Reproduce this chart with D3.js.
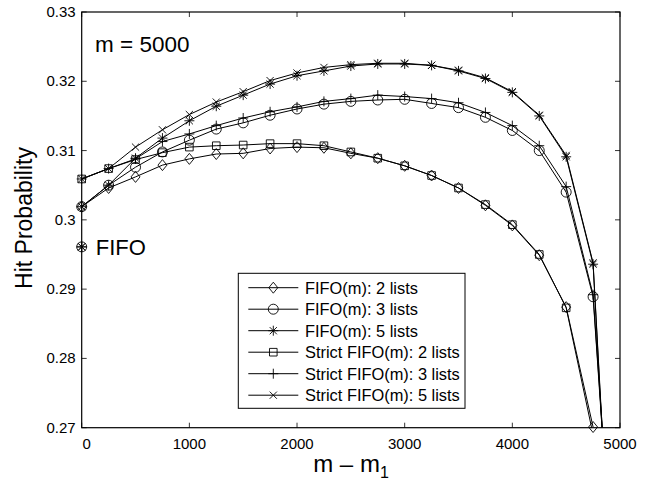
<!DOCTYPE html>
<html>
<head>
  <meta charset="utf-8">
  <title>Hit Probability vs m - m1</title>
  <script src="https://d3js.org/d3.v7.min.js"></script>
  <style>
    body { margin: 0; background: #fff; }
    svg { font-family: "Liberation Sans", Arial, sans-serif; }
    .curve { fill: none; stroke: #000; stroke-width: 1; }
    .mark { fill: none; stroke: #000; stroke-width: 0.9; }
  </style>
</head>
<body>
  <script>
    // x values (m - m1)
    const xs = [0, 250, 500, 750, 1000, 1250, 1500, 1750, 2000, 2250, 2500,
                2750, 3000, 3250, 3500, 3750, 4000, 4250, 4500, 4750, 5000];

    // series values
    const fifo2 = [0.3019, 0.3046, 0.3062, 0.3079, 0.3088, 0.3095, 0.3096, 0.3103, 0.3105, 0.3104, 0.3096,
                   0.3089, 0.3078, 0.3064, 0.3046, 0.3021, 0.2992, 0.2949, 0.2874, 0.2701];
    const fifo3 = [0.3019, 0.3050, 0.3076, 0.3098, 0.3115, 0.3131, 0.3140, 0.3151, 0.3160, 0.3167, 0.3171,
                   0.3173, 0.3174, 0.3168, 0.3162, 0.3148, 0.3129, 0.3100, 0.3040, 0.2889, 0.2320];
    const fifo5 = [0.3019, 0.3050, 0.3089, 0.3118, 0.3143, 0.3164, 0.3180, 0.3196, 0.3208, 0.3215, 0.3222,
                   0.3225, 0.3225, 0.3223, 0.3215, 0.3204, 0.3184, 0.3150, 0.3091, 0.2936, 0.2220];
    const strict2 = [0.3059, 0.3074, 0.3087, 0.3097, 0.3105, 0.3107, 0.3108, 0.3110, 0.3110, 0.3107, 0.3098,
                     0.3089, 0.3078, 0.3064, 0.3046, 0.3022, 0.2993, 0.2950, 0.2873, 0.2690];
    const strict3 = [0.3059, 0.3074, 0.3088, 0.3113, 0.3124, 0.3136, 0.3147, 0.3156, 0.3163, 0.3171, 0.3175,
                     0.3180, 0.3178, 0.3175, 0.3169, 0.3155, 0.3136, 0.3107, 0.3048, 0.2892, 0.2330];
    const strict5 = [0.3059, 0.3074, 0.3105, 0.3130, 0.3152, 0.3170, 0.3185, 0.3201, 0.3212, 0.3220, 0.3224,
                     0.3226, 0.3226, 0.3223, 0.3216, 0.3205, 0.3185, 0.3151, 0.3093, 0.2938, 0.2230];

    // plain FIFO point
    const fifoPoint = { x: 0, y: 0.2961 };

    const xTicks = [0, 1000, 2000, 3000, 4000, 5000];
    const yTicks = [0.27, 0.28, 0.29, 0.30, 0.31, 0.32, 0.33];

    const series = [
      { name: "FIFO(m): 2 lists", values: fifo2, marker: "diamond" },
      { name: "FIFO(m): 3 lists", values: fifo3, marker: "circle" },
      { name: "FIFO(m): 5 lists", values: fifo5, marker: "star" },
      { name: "Strict FIFO(m): 2 lists", values: strict2, marker: "square" },
      { name: "Strict FIFO(m): 3 lists", values: strict3, marker: "plus" },
      { name: "Strict FIFO(m): 5 lists", values: strict5, marker: "cross" }
    ];

    const width = 657, height = 483;
    const margin = { left: 81.7, right: 37, top: 12, bottom: 55.3 };

    const x = d3.scaleLinear().domain([0, 5000]).range([margin.left, width - margin.right]);
    const y = d3.scaleLinear().domain([0.27, 0.33]).range([height - margin.bottom, margin.top]);

    const svg = d3.create("svg")
        .attr("width", width)
        .attr("height", height);

    svg.append("defs").append("clipPath").attr("id", "plotclip")
      .append("rect")
        .attr("x", x(0)).attr("y", y(0.33))
        .attr("width", x(5000) - x(0)).attr("height", y(0.27) - y(0.33));

    // marker paths, centred at 0,0
    function markerPath(type) {
      const p = d3.path();
      if (type === "diamond") {
        p.moveTo(0, -5.5); p.lineTo(4.5, 0); p.lineTo(0, 5.5); p.lineTo(-4.5, 0); p.closePath();
      } else if (type === "square") {
        p.rect(-3.8, -3.8, 7.6, 7.6);
      } else if (type === "circle") {
        p.moveTo(5, 0); p.arc(0, 0, 5, 0, 2 * Math.PI);
      } else if (type === "plus") {
        p.moveTo(-5, 0); p.lineTo(5, 0); p.moveTo(0, -5); p.lineTo(0, 5);
      } else if (type === "cross") {
        p.moveTo(-3.6, -3.6); p.lineTo(3.6, 3.6); p.moveTo(-3.6, 3.6); p.lineTo(3.6, -3.6);
      } else if (type === "star") {
        p.moveTo(-5, 0); p.lineTo(5, 0); p.moveTo(0, -5); p.lineTo(0, 5);
        p.moveTo(-3.6, -3.6); p.lineTo(3.6, 3.6); p.moveTo(-3.6, 3.6); p.lineTo(3.6, -3.6);
      }
      return p.toString();
    }

    const line = d3.line()
        .x(d => x(d[0]))
        .y(d => y(d[1]));

    const plot = svg.append("g");

    // curves
    series.forEach(s => {
      const pts = s.values.map((v, i) => [xs[i], v]);
      plot.append("path")
          .attr("class", "curve")
          .attr("clip-path", "url(#plotclip)")
          .attr("d", line(pts));
      plot.selectAll(null)
        .data(pts.filter(d => d[1] >= 0.27 && d[1] <= 0.33))
        .join("path")
          .attr("class", "mark")
          .attr("transform", d => `translate(${x(d[0])},${y(d[1])})`)
          .attr("d", markerPath(s.marker));
    });

    // plain FIFO marker
    ["circle", "star", "plus", "cross"].forEach(m => {
      plot.append("path")
          .attr("class", "mark")
          .attr("transform", `translate(${x(fifoPoint.x)},${y(fifoPoint.y)})`)
          .attr("d", markerPath(m));
    });
    svg.append("text")
        .attr("x", x(0) + 14)
        .attr("y", y(fifoPoint.y) + 8)
        .attr("font-size", 22)
        .text("FIFO");

    // axes box
    svg.append("rect")
        .attr("x", x(0)).attr("y", y(0.33))
        .attr("width", x(5000) - x(0)).attr("height", y(0.27) - y(0.33))
        .attr("fill", "none").attr("stroke", "#000").attr("stroke-width", 1.2);

    const tickLen = 5;
    const axes = svg.append("g").attr("stroke", "#000").attr("stroke-width", 0.8);
    xTicks.forEach(t => {
      axes.append("line").attr("x1", x(t)).attr("x2", x(t)).attr("y1", y(0.27)).attr("y2", y(0.27) - tickLen);
      axes.append("line").attr("x1", x(t)).attr("x2", x(t)).attr("y1", y(0.33)).attr("y2", y(0.33) + tickLen);
    });
    yTicks.forEach(t => {
      axes.append("line").attr("x1", x(0)).attr("x2", x(0) + tickLen).attr("y1", y(t)).attr("y2", y(t));
      axes.append("line").attr("x1", x(5000)).attr("x2", x(5000) - tickLen).attr("y1", y(t)).attr("y2", y(t));
    });

    svg.append("g").selectAll("text")
      .data(xTicks)
      .join("text")
        .attr("x", d => x(d) + (d === 0 ? 5 : 0))
        .attr("y", y(0.27) + 21)
        .attr("text-anchor", "middle")
        .attr("font-size", 15)
        .text(d => d);

    svg.append("g").selectAll("text")
      .data(yTicks)
      .join("text")
        .attr("x", x(0) - 6)
        .attr("y", d => y(d) + 5)
        .attr("text-anchor", "end")
        .attr("font-size", 15)
        .text(d => d3.format(".2~f")(d));

    // axis labels
    const xl = svg.append("text")
        .attr("x", 351)
        .attr("y", 471.5)
        .attr("text-anchor", "middle")
        .attr("font-size", 24);
    xl.append("tspan").text("m \u2013 m");
    xl.append("tspan").attr("font-size", 16).attr("dy", 6).text("1");

    svg.append("text")
        .attr("transform", "translate(32,218) rotate(-90)")
        .attr("text-anchor", "middle")
        .attr("font-size", 23)
        .text("Hit Probability");

    svg.append("text")
        .attr("x", 95)
        .attr("y", 52)
        .attr("font-size", 22.5)
        .text("m = 5000");

    // legend
    const lg = svg.append("g");
    lg.append("rect")
        .attr("x", 238.3).attr("y", 273.3)
        .attr("width", 226.7).attr("height", 135)
        .attr("fill", "#fff").attr("stroke", "#000").attr("stroke-width", 1);
    series.forEach((s, i) => {
      const cy = 287.7 + i * 21.5;
      lg.append("line")
          .attr("x1", 248.3).attr("x2", 298.3)
          .attr("y1", cy).attr("y2", cy)
          .attr("stroke", "#000").attr("stroke-width", 1);
      lg.append("path")
          .attr("class", "mark")
          .attr("transform", `translate(273.3,${cy})`)
          .attr("d", markerPath(s.marker));
      lg.append("text")
          .attr("x", 305)
          .attr("y", cy + 5.8)
          .attr("font-size", 16.4)
          .text(s.name);
    });

    document.body.appendChild(svg.node());
  </script>
</body>
</html>
